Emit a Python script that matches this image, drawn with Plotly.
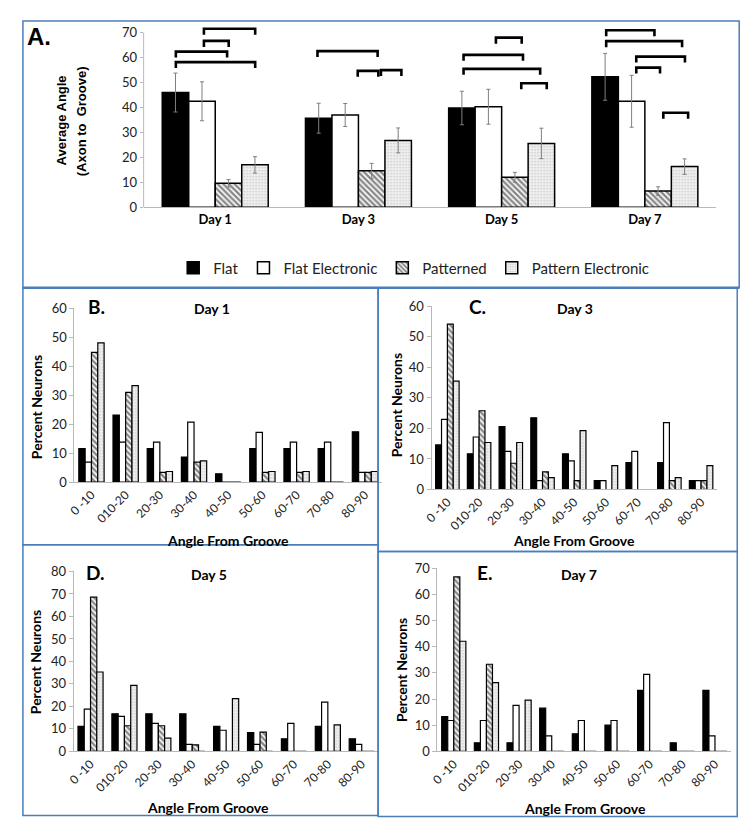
import plotly.graph_objects as go

W, H = 751, 838

# ---------------- data ----------------
series_names = ["Flat", "Flat Electronic", "Patterned", "Pattern Electronic"]
days = ["Day 1", "Day 3", "Day 5", "Day 7"]

avg_flat = [46.0, 35.7, 39.8, 52.3]
avg_flat_elec = [42.5, 37.0, 40.3, 42.5]
avg_patterned = [9.6, 14.6, 12.0, 6.5]
avg_pattern_elec = [17.0, 26.8, 25.6, 16.3]

err_flat = [7.8, 6.0, 6.7, 9.4]
err_flat_elec = [7.8, 4.6, 7.0, 10.4]
err_patterned = [1.5, 3.0, 2.0, 1.7]
err_pattern_elec = [3.3, 5.0, 6.1, 3.1]

# significance brackets: (day index, left offset, right offset, height)
brackets = [
    (0, -0.079, 0.279, 71.6), (0, -0.079, 0.094, 66.7),
    (0, -0.275, 0.083, 62.4), (0, -0.275, 0.279, 58.2),
    (1, -0.286, 0.134, 62.6), (1, -0.005, 0.139, 54.7), (1, 0.157, 0.300, 55.0),
    (2, -0.040, 0.140, 68.0), (2, -0.266, 0.149, 61.1),
    (2, -0.266, 0.269, 55.5), (2, 0.137, 0.315, 49.7),
    (3, -0.270, 0.067, 71.0), (3, -0.270, 0.260, 66.6), (3, -0.060, 0.280, 60.4),
    (3, -0.060, 0.106, 56.0), (3, 0.129, 0.302, 37.9),
]

angle_bins = ["0 -10", "010-20", "20-30", "30-40", "40-50", "50-60", "60-70", "70-80", "80-90"]

day1_flat = [11.6, 23.2, 11.6, 8.7, 2.9, 11.6, 11.6, 11.6, 17.4]
day1_flat_elec = [6.9, 13.8, 13.8, 20.7, 0, 17.2, 13.8, 13.8, 3.4]
day1_patterned = [44.8, 31.0, 3.4, 6.9, 0, 3.4, 3.4, 0, 3.4]
day1_pattern_elec = [48.1, 33.3, 3.7, 7.4, 0, 3.7, 3.7, 0, 3.7]

day3_flat = [14.6, 11.7, 20.6, 23.5, 11.7, 2.9, 8.8, 8.8, 2.9]
day3_flat_elec = [23.0, 17.2, 12.5, 2.9, 9.4, 2.9, 12.5, 21.9, 2.9]
day3_patterned = [54.2, 25.8, 8.6, 5.8, 2.9, 0, 0, 2.9, 2.9]
day3_pattern_elec = [35.5, 15.4, 15.4, 3.9, 19.3, 7.8, 0, 3.9, 7.8]

day5_flat = [11.1, 16.7, 16.7, 16.7, 11.1, 8.3, 5.6, 11.1, 5.6]
day5_flat_elec = [18.8, 15.6, 12.5, 3.1, 9.4, 3.1, 12.5, 21.9, 3.1]
day5_patterned = [68.6, 11.4, 11.4, 2.9, 0, 8.6, 0, 0, 0]
day5_pattern_elec = [35.3, 29.4, 5.9, 0, 23.5, 0, 0, 11.8, 0]

day7_flat = [13.3, 3.3, 3.3, 16.5, 6.7, 10.0, 23.3, 3.3, 23.3]
day7_flat_elec = [11.8, 11.8, 17.6, 5.9, 11.8, 11.8, 29.4, 0, 5.9]
day7_patterned = [66.7, 33.3, 0, 0, 0, 0, 0, 0, 0]
day7_pattern_elec = [42.1, 26.3, 19.6, 0, 0, 0, 0, 0, 0]

# ---------------- helpers ----------------
OFF = 8  # default page body margin in the browser


def fx(p):
    return (p - OFF) / W


def fy(p):
    return 1 - (p - OFF) / H


FONT = "Lato"
BORDER = "#4a7ebb"
AXIS_GRAY = "#b8b8b8"

styles = [
    dict(color="black", line=dict(color="black", width=1.5)),
    dict(color="white", line=dict(color="black", width=1.5)),
    dict(color="white", line=dict(color="black", width=1.5),
         pattern=dict(shape="\\", fgcolor="#111111", bgcolor="white", size=4, solidity=0.6)),
    dict(color="#ececec", line=dict(color="black", width=1.5),
         pattern=dict(shape=".", fgcolor="#9a9a9a", bgcolor="#f0f0f0", size=3, solidity=0.25)),
]

fig = go.Figure()

# ---------------- panel A ----------------
avg_vals = [avg_flat, avg_flat_elec, avg_patterned, avg_pattern_elec]
avg_errs = [err_flat, err_flat_elec, err_patterned, err_pattern_elec]
for name, vals, errs, st in zip(series_names, avg_vals, avg_errs, styles):
    fig.add_trace(go.Bar(
        x=days, y=vals, name=name, marker=st, xaxis="x", yaxis="y",
        error_y=dict(type="data", array=errs, color="#7f7f7f", thickness=1, width=2),
        showlegend=True,
    ))

# ---------------- panels B-E ----------------
hist_sets = [
    [day1_flat, day1_flat_elec, day1_patterned, day1_pattern_elec],
    [day3_flat, day3_flat_elec, day3_patterned, day3_pattern_elec],
    [day5_flat, day5_flat_elec, day5_patterned, day5_pattern_elec],
    [day7_flat, day7_flat_elec, day7_patterned, day7_pattern_elec],
]
for k, hs in enumerate(hist_sets):
    xa = "x%d" % (k + 2)
    ya = "y%d" % (k + 2)
    for name, vals, st in zip(series_names, hs, styles):
        st2 = dict(st)
        st2["line"] = dict(color="black", width=1.2)
        fig.add_trace(go.Bar(x=angle_bins, y=vals, name=name, marker=st2,
                             xaxis=xa, yaxis=ya, showlegend=False))

# axis geometry (screen pixels)
A_top_val = 73
A_px = dict(x0=137, x1=716, y0=203, yscale=178 / 70)
sub = {
    2: dict(x0=67, x1=378, y0=483.3, ytop=306, rng=60),
    3: dict(x0=428, x1=716.5, y0=490.7, ytop=304, rng=60),
    4: dict(x0=66.2, x1=374.6, y0=757.7, ytop=574.3, rng=80),
    5: dict(x0=434, x1=731, y0=757.7, ytop=571, rng=70),
}

tickfont = dict(family=FONT, size=12, color="#222222")
layout = dict(
    width=W, height=H, margin=dict(l=0, r=0, t=0, b=0),
    paper_bgcolor="white", plot_bgcolor="white",
    barmode="group", bargap=0.26, bargroupgap=0,
    font=dict(family=FONT, color="black"),
    showlegend=True,
    legend=dict(orientation="h", x=fx(410), xanchor="center", y=fy(265), yanchor="middle",
                font=dict(family=FONT, size=15, color="#222222"), traceorder="normal",
                itemwidth=30, bgcolor="rgba(0,0,0,0)"),
)

A_ytop_px = A_px["y0"] - A_top_val * A_px["yscale"]
layout["xaxis"] = dict(domain=[fx(A_px["x0"]), fx(A_px["x1"])], anchor="y",
                       showline=True, linecolor=AXIS_GRAY, linewidth=1, ticks="",
                       tickfont=dict(family=FONT, size=13, color="black", weight="bold"),
                       showgrid=False, zeroline=False)
layout["yaxis"] = dict(domain=[fy(A_px["y0"]), fy(A_ytop_px)], anchor="x",
                       range=[0, A_top_val], tickvals=list(range(0, 71, 10)),
                       showline=False, showgrid=False, zeroline=False,
                       ticks="outside", ticklen=3, tickcolor=AXIS_GRAY,
                       tickfont=dict(family=FONT, size=13, color="#222222"))

for k, g in sub.items():
    layout["xaxis%d" % k] = dict(domain=[fx(g["x0"]), fx(g["x1"])], anchor="y%d" % k,
                                 showline=True, linecolor=AXIS_GRAY, linewidth=1,
                                 ticks="", tickangle=-45, tickfont=tickfont,
                                 showgrid=False, zeroline=False)
    layout["yaxis%d" % k] = dict(domain=[fy(g["y0"]), fy(g["ytop"])], anchor="x%d" % k,
                                 range=[0, g["rng"]], dtick=10,
                                 showline=True, linecolor=AXIS_GRAY, linewidth=1,
                                 ticks="outside", ticklen=4, tickcolor=AXIS_GRAY,
                                 tickfont=dict(family=FONT, size=13, color="#222222"),
                                 showgrid=False, zeroline=False)

fig.update_layout(**layout)

shapes = []
# A y-axis line from 0 to 70
ydom = layout["yaxis"]["domain"]


def ya_paper(v):
    return ydom[0] + (ydom[1] - ydom[0]) * v / A_top_val


shapes.append(dict(type="line", xref="paper", yref="paper",
                   x0=fx(A_px["x0"]), x1=fx(A_px["x0"]), y0=ya_paper(0), y1=ya_paper(70),
                   line=dict(color=AXIS_GRAY, width=1)))

# brackets
drop = 2.4
for d, o0, o1, h in brackets:
    xa0, xa1 = d + o0, d + o1
    shapes.append(dict(type="path", xref="x", yref="y",
                       path="M %f,%f L %f,%f L %f,%f L %f,%f" % (xa0, h - drop, xa0, h, xa1, h, xa1, h - drop),
                       line=dict(color="black", width=2.6)))


# panel borders
def rect(x0, y0, x1, y1, w=1.5):
    return dict(type="rect", xref="paper", yref="paper",
                x0=fx(x0), x1=fx(x1), y0=fy(y1), y1=fy(y0),
                line=dict(color=BORDER, width=w), fillcolor="rgba(0,0,0,0)", layer="above")


shapes.append(rect(15, 13, 739, 285))
shapes.append(rect(15, 285, 374, 547))
shapes.append(rect(374, 285, 737, 554))
shapes.append(rect(15, 547, 374, 823))
shapes.append(rect(374, 554, 737, 824))
shapes.append(dict(type="line", xref="paper", yref="paper", x0=fx(15), x1=fx(739),
                   y0=fy(285), y1=fy(285), line=dict(color=BORDER, width=2.5)))
fig.update_layout(shapes=shapes)

ann = []


def text(s, x, y, size, xanchor="center", yanchor="middle", family=FONT, bold=True, angle=0, color="black"):
    ann.append(dict(text=s, x=fx(x), y=fy(y), xref="paper", yref="paper", showarrow=False,
                    xanchor=xanchor, yanchor=yanchor, textangle=angle,
                    font=dict(family=family, size=size, color=color, weight="bold" if bold else "normal")))


text("A.", 17, 29, 24, xanchor="left", family="Liberation Sans")
text("Average Angle", 54, 115, 13, family="Liberation Sans", angle=-90)
text("(Axon to  Groove)", 75, 115, 13, family="Liberation Sans", angle=-90)

for lbl, (lx, ly), (yx, yy), (ax_, ay_) in [
    ("B.", (79, 304), (29, 407), (222, 543)),
    ("C.", (464, 304), (393, 405), (572, 543)),
    ("D.", (77, 575), (28, 667), (202, 815)),
    ("E.", (472, 575), (397, 675), (583, 816)),
]:
    text(lbl, lx, ly, 19, xanchor="left")
    text("Percent Neurons", yx, yy, 14, angle=-90)
    text("Angle From Groove", ax_, ay_, 14)

for t, (tx, ty) in zip(days, [(206, 306), (573, 306), (203, 577), (577, 577)]):
    text(t, tx, ty, 14)

fig.update_layout(annotations=ann)
fig.write_html("out.html", config={"displayModeBar": False})
